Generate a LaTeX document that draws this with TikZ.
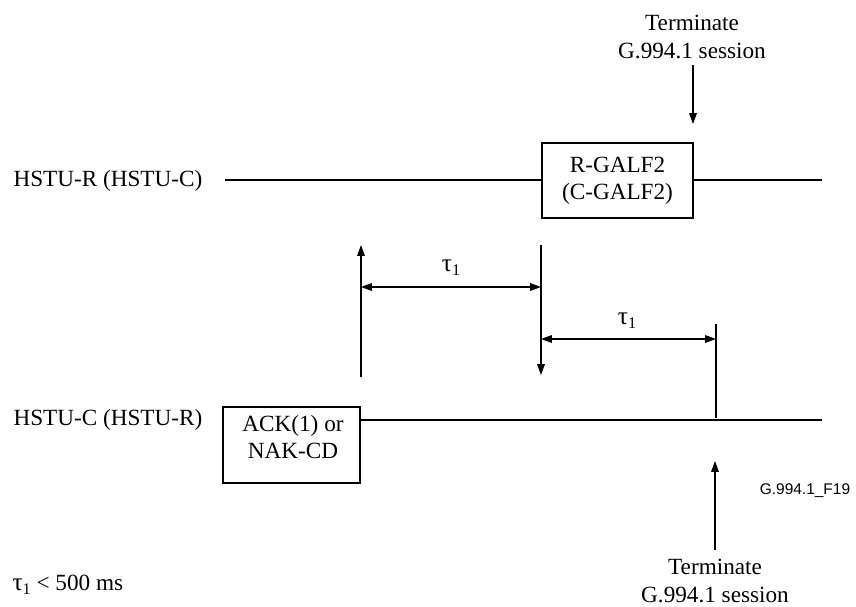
\documentclass[tikz,border=0pt]{standalone}
\usepackage{fontspec}
\setmainfont{Liberation Serif}
\newfontfamily\figfont{Liberation Sans}
\usetikzlibrary{arrows.meta, positioning}
\tikzset{
  lbl/.style={font=\fontsize{16.5}{19.4}\selectfont, align=center, inner sep=0pt},
  framebox/.style={draw, lbl},
}
\newcommand{\tauone}{{\fontsize{18}{20}\selectfont τ}\raisebox{-0.4ex}{\fontsize{11.5}{13}\selectfont 1}}

\begin{document}
\begin{tikzpicture}[x=0.025cm, y=-0.025cm, line width=0.75pt, >={Triangle[length=0.27cm, width=0.19cm]}]
    \useasboundingbox (0,0) rectangle (856,606);

    % time lines
    \node[lbl, anchor=west] (hstuR) at (13,181) {HSTU-R (HSTU-C)};
    \node[lbl, anchor=west] (hstuC) at (13,420) {HSTU-C (HSTU-R)};
    \node[framebox, minimum width=3.775cm, minimum height=1.875cm] (galf) at (617.5,180.5) {R-GALF2\\(C-GALF2)};
    \node[framebox, minimum width=3.425cm, minimum height=1.9cm] (ack) at (291.5,445) {};
    \node[lbl] (ackTxt) at (293,437) {ACK(1) or\\NAK-CD};

    \coordinate (rStart) at (225,180);
    \coordinate (rEnd) at (822,180);
    \coordinate (cStart) at (360,420);
    \coordinate (cEnd) at (822,420);

    \draw (rStart) -- (galf.west |- rStart);
    \draw (galf.east |- rEnd) -- (rEnd);
    \draw (cStart) -- (cEnd);

    % markers
    \coordinate (upLow) at (361,377);
    \coordinate (upHigh) at (361,245);
    \coordinate (downHigh) at (541,245);
    \coordinate (downLow) at (541,375);
    \coordinate (endHigh) at (716,324);
    \coordinate (endLow) at (716,418);

    \draw[->] (upLow) -- (upHigh);
    \draw[->] (downHigh) -- (downLow);
    \draw (endHigh) -- (endLow);

    % delays
    \coordinate (d1a) at (361,287);
    \coordinate (d1b) at (541,287);
    \coordinate (d2a) at (541,339);
    \coordinate (d2b) at (716,339);
    \draw[<->] (d1a) -- (d1b);
    \draw[<->] (d2a) -- (d2b);
    \node[lbl] (tauA) at (451,268) {\tauone};
    \node[lbl] (tauB) at (627,321) {\tauone};

    % session ends
    \node[lbl] (termTop) at (692,37) {Terminate\\G.994.1 session};
    \node[lbl] (termBot) at (715,581) {Terminate\\G.994.1 session};
    \coordinate (topTail) at (693,65);
    \coordinate (topTip) at (693,124);
    \coordinate (botTail) at (715,550);
    \coordinate (botTip) at (715,461);
    \draw[->] (topTail) -- (topTip);
    \draw[->] (botTail) -- (botTip);

    \node[font=\figfont\fontsize{11}{13}\selectfont, inner sep=0pt] (figId) at (805,491) {G.994.1\_F19};
    \node[lbl, anchor=west] (note) at (12,585) {\tauone{} < 500 ms};
\end{tikzpicture}
\end{document}
